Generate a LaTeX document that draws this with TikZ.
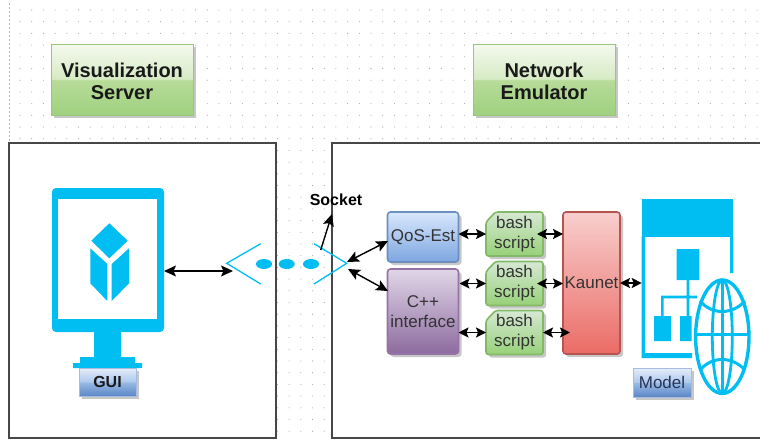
\documentclass[tikz,border=0pt]{standalone}
\usepackage{fontspec}
\setmainfont{Liberation Sans}
\usetikzlibrary{arrows.meta,shadows,calc}
\definecolor{iconcyan}{HTML}{00BEF2}
\newcommand\lowered[2]{\raisebox{-#1pt}[\height][\depth]{#2}}
\newcommand\bashshape[1]{\path[bashpath,shift={(514.5,#1)}] (-19,-22) -- (28.5,-22) -- (28.5,22) -- (-28.5,22) -- (-28.5,-12) -- cycle;}
\pgfdeclareverticalshading{glossgreen}{100bp}{rgb(0bp)=(0.62,0.82,0.50);
  rgb(25bp)=(0.62,0.82,0.50); rgb(49.5bp)=(0.72,0.86,0.60); rgb(50.5bp)=(0.84,0.92,0.77); rgb(75bp)=(0.96,0.98,0.94); rgb(100bp)=(0.96,0.98,0.94)}
\pgfdeclareverticalshading{glossblue}{100bp}{rgb(0bp)=(0.36,0.53,0.78);
  rgb(25bp)=(0.36,0.53,0.78); rgb(49.5bp)=(0.60,0.73,0.90); rgb(50.5bp)=(0.68,0.79,0.93); rgb(75bp)=(0.90,0.93,0.98); rgb(100bp)=(0.90,0.93,0.98)}
\tikzset{
  x=1pt,y=-1pt,
  softshadow/.style={general shadow={shadow xshift=3pt,shadow yshift=-3pt,fill=black!22}},
  basebox/.style={inner sep=0pt,outer sep=0pt,align=center,text=black!90,softshadow},
  title/.style={basebox,shading=glossgreen,draw={rgb,1:red,0.6;green,0.78;blue,0.48},line width=0.8pt,minimum width=142pt,minimum height=71pt,
    font=\fontsize{20}{22.5}\selectfont\bfseries},
  tag/.style={basebox,shading=glossblue,draw={rgb,1:red,0.65;green,0.74;blue,0.88},line width=0.5pt},
  proc/.style={basebox,rounded corners=3pt,line width=1.6pt,minimum width=71pt,
    font=\fontsize{17}{20}\selectfont,text=black!80},
  bashpath/.style={softshadow,rounded corners=2.5pt,
    top color={rgb,1:red,0.84;green,0.91;blue,0.83},bottom color={rgb,1:red,0.59;green,0.82;blue,0.47},
    draw={rgb,1:red,0.51;green,0.72;blue,0.40},line width=1.6pt,line join=round},
  bashtext/.style={inner sep=0pt,outer sep=0pt,align=center,minimum width=57pt,minimum height=44pt,
    font=\fontsize{17}{20}\selectfont,text=black!80},
  bigtip/.tip={Stealth[length=12pt,width=11pt,inset=2.5pt]},
  smalltip/.tip={Stealth[length=10pt,width=10pt,inset=2pt]},
  link/.style={line width=1.4pt,black,bigtip-bigtip},
  shortlink/.style={line width=1.4pt,black,smalltip-smalltip},
  frame/.style={fill=white,draw=black!72,line width=1.1pt},
  chevron/.style={iconcyan,line width=1.3pt},
  iconfill/.style={fill=iconcyan,draw=none},
  globeline/.style={iconcyan,line width=3.4pt}
}
\begin{document}
\begin{tikzpicture}
\useasboundingbox (0,0) rectangle (760,439);
\fill[white] (0,0) rectangle (760,439);
% dotted page grid
\foreach \i in {0,...,63}{\foreach \j in {0,...,37}{
  \fill[black!35] ({20+11.7*\i},{10+11.7*\j}) circle (0.55);
}}
\draw[black!28,line width=1pt,dash pattern=on 1.5pt off 2.5pt] (9,3) -- (9,143);
% frames
\draw[frame] (9,143) rectangle (276,438);
\draw[frame] (760,143) -- (332,143) -- (332,438) -- (760,438);
% titles
\node[title] (vis) at (122,79.5) {\lowered{2}{Visualization}\\\lowered{2}{Server}};
\node[title] (emu) at (544,79.5) {\lowered{2}{Network}\\\lowered{2}{Emulator}};
% monitor icon
\fill[iconfill] (94,330) rectangle (121,358) (80,357) rectangle (135,365) (73,363) rectangle (142,368);
\node[iconfill,rounded corners=4pt,minimum width=112pt,minimum height=144pt,inner sep=0pt,outer sep=0pt] (monitor) at (108,260) {};
\fill[white] (58,199) rectangle (157,319);
\fill[iconcyan] (109.3,223.3) -- (127.7,240.7) -- (109.3,258.3) -- (91.3,240.7) -- cycle;
\fill[iconcyan] (90.3,248.3) -- (107.3,264) -- (107.3,301) -- (90.3,283.3) -- cycle;
\fill[iconcyan] (129,248.3) -- (111.7,264) -- (111.7,301) -- (129,283.3) -- cycle;
\node[tag,minimum width=57pt,minimum height=28pt,font=\fontsize{16}{19}\selectfont\bfseries] (gui) at (107.5,382) {GUI};
% socket
\draw[chevron] (260.7,243.7) -- (226.7,263.3) -- (260.7,284);
\draw[chevron] (314,243.7) -- (346.7,263.3) -- (314,284);
\fill[iconcyan] (264,264) ellipse (8 and 5) (286.7,264) ellipse (8 and 5) (311,264) ellipse (8 and 5);
\coordinate (gapL) at (233,271);
\coordinate (sockTop) at (320.7,250);
\coordinate (sockTip) at (332,214);
\coordinate (sockUp) at (347,262);
\coordinate (sockDown) at (348,269);
\coordinate (qosIn) at (388,241);
\coordinate (cppIn) at (388,291);
\node[inner sep=0pt,font=\fontsize{16}{18}\selectfont\bfseries,text=black] (socket) at (336,200) {Socket};
% processes
\node[proc,minimum height=50pt,top color={rgb,1:red,0.85;green,0.91;blue,0.99},bottom color={rgb,1:red,0.49;green,0.65;blue,0.88},draw={rgb,1:red,0.42;green,0.56;blue,0.75}] (qos) at (423,237) {QoS-Est};
\node[proc,minimum height=85pt,top color={rgb,1:red,0.88;green,0.84;blue,0.91},bottom color={rgb,1:red,0.55;green,0.42;blue,0.62},draw={rgb,1:red,0.59;green,0.45;blue,0.65}] (cpp) at (423,311.5) {C++\\interface};
\bashshape{234}
\bashshape{283.5}
\bashshape{332.5}
\node[bashtext] (bash1) at (514.5,234) {bash\\script};
\node[bashtext] (bash2) at (514.5,283.5) {bash\\script};
\node[bashtext] (bash3) at (514.5,332.5) {bash\\script};
\node[proc,minimum width=57pt,minimum height=142pt,top color={rgb,1:red,0.97;green,0.81;blue,0.80},bottom color={rgb,1:red,0.92;green,0.42;blue,0.40},draw={rgb,1:red,0.72;green,0.33;blue,0.31}] (kaunet) at (591.5,283) {Kaunet};
% model icon
\fill[iconfill] (641.7,236) rectangle (645,358) (641.7,353) rectangle (692,358) (730,236) rectangle (733.3,273);
\node[iconfill,minimum width=91.6pt,minimum height=37.4pt,inner sep=0pt,outer sep=0pt] (model) at (687.5,218) {};
\fill[iconcyan] (676.7,249) rectangle (699.3,280) (654,316) rectangle (671,341) (680,316) rectangle (691.7,341);
\fill[iconcyan] (686.6,280) rectangle (689.4,317) (661,295.7) rectangle (697,298.3) (661,295.7) rectangle (663.6,316);
\filldraw[globeline,fill=white] (722.3,336.7) ellipse (26.7 and 56.7);
\draw[globeline,line width=2.8pt] (722.3,336.7) ellipse (10 and 56.7);
\draw[globeline,line width=2.8pt] (722.3,280) -- (722.3,393.4);
\draw[globeline,line width=3pt] (697,334) -- (748,334);
\draw[globeline,line width=3pt] (700,301) .. controls (712,315) and (732,315) .. (745,301);
\draw[globeline,line width=3pt] (700,370) .. controls (712,356) and (732,356) .. (745,370);
\node[tag,minimum width=58pt,minimum height=29pt,font=\fontsize{17}{20}\selectfont,text={rgb,1:red,0.15;green,0.2;blue,0.35}] (modeltag) at (662,382.5) {Model};
% connectors
\draw[link] (monitor.east |- gapL) -- (gapL);
\draw[line width=1.4pt,-bigtip] (sockTop) -- (sockTip);
\draw[link] (sockUp) -- (qosIn);
\draw[link] (sockDown) -- (cppIn);
\draw[shortlink] (qos.east |- bash1.west) -- (bash1.west);
\draw[shortlink] ($(cpp.east |- bash2.west)+(1,0)$) -- (bash2.west);
\draw[shortlink] (cpp.east |- bash3.west) -- (bash3.west);
\draw[shortlink] ($(bash1.east)+(-6,0)$) -- (kaunet.west |- bash1.east);
\draw[shortlink] ($(bash2.east)+(-6,0)$) -- (kaunet.west |- bash2.east);
\draw[shortlink] (bash3.east) -- ($(kaunet.west |- bash3.east)+(7,0)$);
\draw[shortlink] (kaunet.east) -- (model.west |- kaunet.east);
\end{tikzpicture}
\end{document}
